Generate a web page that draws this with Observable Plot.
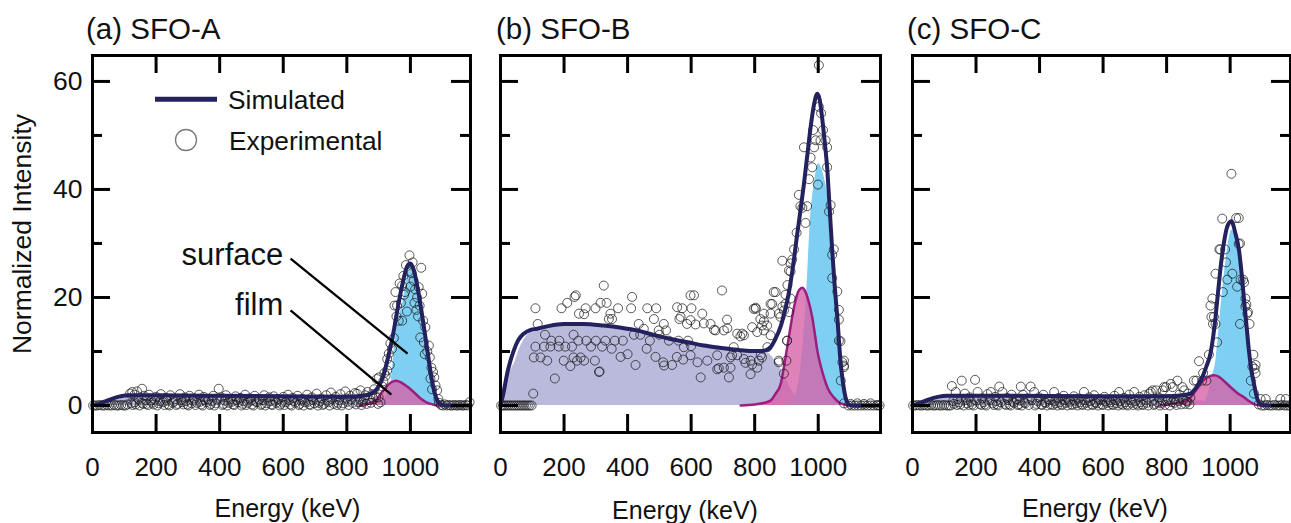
<!DOCTYPE html>
<html><head><meta charset="utf-8">
<script src="https://cdn.jsdelivr.net/npm/d3@7"></script>
<script src="https://cdn.jsdelivr.net/npm/@observablehq/plot@0.6"></script>
<style>
body{margin:0;background:#fff;font-family:"Liberation Sans",Arial,sans-serif;color:#111;}
#wrap{position:relative;width:1291px;height:523px;overflow:hidden;background:#fff;}
.panel{position:absolute;top:0;}
.title{position:absolute;font-size:29.5px;line-height:29.5px;white-space:nowrap;top:14px;}
.xlab{position:absolute;font-size:25px;line-height:25px;white-space:nowrap;transform:translateX(-50%);}
.ylab{position:absolute;font-size:26.5px;line-height:26.5px;white-space:nowrap;transform:translate(-50%,-50%) rotate(-90deg);}
</style></head><body><div id="wrap"></div>
<script>
// ---------- shared axis / tick values ----------
const xTickLabels = [0, 200, 400, 600, 800, 1000];
const xTickMarks = [200, 400, 600, 800, 1000];
const yTickLabels = [0, 20, 40, 60];
const yMajorTicks = [0, 20, 40, 60];
const yMinorTicks = [10, 30, 50];
const panelTitles = ["(a) SFO-A", "(b) SFO-B", "(c) SFO-C"];
const xAxisLabel = "Energy (keV)";
const yAxisLabel = "Normalized Intensity";
const legendLabels = ["Simulated", "Experimental"];

// ---------- panel (a) SFO-A ----------
const simA = [[0,0],[20,0.3],[50,1],[80,1.6],[110,1.9],[200,1.9],[400,1.8],[600,1.7],[800,1.6],[850,1.8],[880,2.3],[900,3.5],[915,5.5],[930,9],[945,13],[960,18],[975,22.5],[990,25.8],[1000,26.3],[1010,25.2],[1025,21],[1040,15.5],[1055,9.5],[1068,4.6],[1080,1.6],[1092,0.4],[1110,0],[1189,0]];
const bgA = [[0,0],[30,0.3],[60,0.9],[100,1.4],[130,1.6],[500,1.5],[850,1.4],[900,1.0],[950,0.3],[1000,0]];
const surfA = [[905,0],[925,2],[940,4.8],[953,12.6],[966,16.5],[979,20],[990,23.5],[1000,25.3],[1008,25.5],[1018,23.5],[1031,18],[1040,14],[1052,9.5],[1060,6.5],[1068,3.8],[1076,2],[1084,0.8],[1092,0.2],[1100,0]];
const filmA = [[840,0],[870,0.4],[890,1],[905,2],[920,3.2],[940,4.3],[955,4.6],[970,4.3],[990,3.5],[1010,2.5],[1030,1.4],[1050,0.6],[1070,0.2],[1090,0],[1110,0]];
const expA = [[2,0],[8,0],[15,0],[22,0.1],[30,0],[38,0],[45,0.1],[52,0],[60,0],[68,0.1],[75,0],[82,0],[90,0.1],[97,0],[104,0],[110,0.2],
[118,2.2],[125,2.5],[132,2.0],[140,2.6],[156,3.1],[122,0.4],[136,0.2],[145,1.2],[155,0.5],[162,1.8],[170,0.3],[178,2.0],[185,0.9],[192,0.2],[200,1.6],[208,0.4],[215,2.1],[222,0.6],[230,1.4],[238,0.2],[245,1.9],[252,0.5],[260,1.2],[268,0.3],[275,2.1],[282,0.6],[290,1.5],[298,0.2],[305,1.8],[312,0.4],[320,1.3],[328,0.5],[335,2.0],[342,0.2],[350,1.6],[358,0.6],[365,1.1],[372,0.3],[380,1.8],[388,0.4],[397,3.1],[405,1.5],[412,0.3],[420,1.9],[428,0.5],[435,1.2],[442,0.2],[450,1.7],[458,0.6],[465,1.4],[472,0.3],[480,2.0],[488,0.5],[495,1.3],[502,0.2],[510,1.8],[518,0.6],[525,1.1],[532,0.3],[540,1.9],[548,0.4],[555,1.5],[562,0.2],[570,1.7],[578,0.5],[585,1.2],[592,0.3],[600,1.6],[608,0.6],[615,2.0],[622,0.2],[630,1.4],[638,0.5],[645,1.8],[652,0.3],[660,1.2],[668,0.6],[675,2.0],[682,0.2],[690,1.5],[698,0.4],[705,2.2],[712,0.5],[720,1.3],[728,0.3],[735,1.9],[742,0.6],[750,2.4],[758,0.3],[765,1.6],[772,0.5],[780,2.1],[788,0.4],[795,2.6],[802,0.7],[810,1.8],[818,0.5],[825,2.3],[832,2.2],[840,1.2],[843,2.8],[850,0.6],[858,1.9],[865,2.5],[872,1.0],[880,2.1],[886,3.0],[892,1.5],[898,0.3],
[126,0.1],[133,0.6],[148,0.0],[159,0.3],[167,1.0],[175,0.1],[189,0.5],[197,1.1],[204,0.0],[212,0.8],[226,0.1],[234,0.9],[242,0.0],[256,0.7],[264,0.1],[279,1.0],[286,0.2],[294,0.8],[302,0.0],[316,0.9],[324,0.1],[339,0.7],[346,0.0],[354,1.0],[369,0.1],[376,0.8],[384,0.0],[392,1.1],[409,0.1],[416,0.9],[424,0.0],[439,0.7],[446,0.1],[454,1.0],[469,0.0],[476,0.8],[484,0.1],[499,0.9],[506,0.0],[514,0.7],[529,0.1],[536,1.0],[544,0.0],[559,0.8],[566,0.1],[574,0.9],[589,0.0],[596,0.7],[604,0.1],[619,1.0],[626,0.0],[634,0.8],[649,0.1],[656,0.9],[664,0.0],[679,0.7],[686,0.1],[694,1.0],[709,0.0],[716,0.8],[724,0.1],[739,0.9],[746,0.0],[754,1.2],[769,0.1],[776,1.0],[784,0.0],[799,1.3],[806,0.1],[814,1.1],[829,0.2],[836,0.6],[846,0.1],[854,1.2],[862,0.3],[876,0.5],[884,1.2],
[894,4.9],[900,1.5],[901,5.2],[906,0.6],[912,3.5],[915,4.5],[918,6.0],[922,5.5],[927,8.6],[927,6.5],[932,9.6],[935,7.5],[937,11.5],[942,10.5],[948,12.5],[950,18.5],[953,21.0],[956,16.5],[958,18.5],[963,15.7],[966,22.6],[970,19],[974,22.2],[974,15.7],[978,24],[980,20.5],[983,21],[986,26.0],[989,17.4],[995,24.8],[997,27.8],[1000,22],[1004,24.5],[1007,26.5],[1010,23.1],[1013,19],[1015,21.5],[1019,17.7],[1021,20.0],[1024,16.5],[1026,21.9],[1029,18.5],[1031,12.6],[1034,25.5],[1037,20.7],[1040,15.7],[1042,11.7],[1045,9.5],[1047,14.5],[1053,10],[1058,11.1],[1061,8.9],[1063,5],[1066,7.0],[1068,3],[1071,6.2],[1075,5.2],[1079,3.7],[1084,2.8],[1088,1.2],
[1090,0.5],[1096,0.1],[1102,0],[1108,0.2],[1114,0],[1120,0.1],[1126,0],[1132,0],[1138,0.1],[1144,0],[1150,0],[1156,0.1],[1162,0],[1168,0],[1174,0.1],[1180,0],[1186,0.6]];
const annoTextA = [{label:"surface", x:600, y:27.8},{label:"film", x:600, y:18.5}];
const annoLinesA = [{x1:623, y1:27.2, x2:991, y2:9.6},{x1:623, y1:17.6, x2:940, y2:2.0}];

// ---------- panel (b) SFO-B ----------
const simB = [[0,0],[10,2.5],[21,5.9],[30,8],[42,10.2],[55,12],[73,13.3],[95,14],[115,14.2],[150,14.7],[199,15.1],[260,15.1],[325,14.8],[380,14.4],[430,13.9],[480,13.1],[535,12.3],[590,11.7],[640,11.1],[690,10.7],[745,10.3],[790,10.1],[821,10.1],[838,10.3],[850,10.8],[865,12.3],[881,14.5],[895,17.5],[907,20.7],[920,25.5],[934,31.8],[945,36.5],[955,41],[966,46.5],[976,51.5],[987,55.8],[997,57.7],[1005,56.5],[1012,53.4],[1020,49],[1028,44.1],[1036,36.5],[1044,28.7],[1052,22],[1060,16.4],[1070,8.3],[1078,4.2],[1086,1.5],[1097,0.2],[1110,0],[1196,0]];
const bgB = [[0,0],[5,2.2],[20,4.8],[35,6.8],[47,8.3],[60,10.5],[79,12.6],[95,13.6],[110,14.2],[150,14.7],[199,15.1],[260,15.1],[325,14.8],[380,14.4],[430,13.9],[480,13.1],[535,12.3],[590,11.7],[640,11.1],[690,10.7],[724,10.3],[790,10.0],[841,9.7],[865,8.2],[885,6.5],[900,4.8],[911,3.4],[925,2.0],[937,1.2],[955,0.6],[980,0.4],[1040,0.3],[1080,0.1],[1090,0]];
const surfB = [[910,0],[930,2],[945,7],[955,13],[965,22.5],[976,34.9],[986,40.4],[995,43.8],[1002,44.8],[1010,44],[1020,42],[1028,39.5],[1036,33],[1044,26],[1052,20],[1060,14.8],[1070,7.8],[1078,3.8],[1086,1.3],[1097,0.2],[1105,0]];
const filmB = [[756,0],[800,0.2],[830,0.5],[850,0.9],[866,2.2],[882,4],[897,8.9],[908,12.8],[918,16.4],[930,19.8],[940,21.4],[950,21.8],[960,21],[970,19.2],[981,16.4],[990,13],[997,10.2],[1008,7.3],[1018,5.2],[1030,3.2],[1049,1.5],[1065,0.6],[1080,0.2],[1100,0]];
const expB = [[2,0],[8,0],[14,0],[20,0],[26,0],[32,0],[38,0],[44,0],[50,0],[56,0],[62,0],[68,0],[74,0],[80,0],[86,0],[92,0],[98,0],
[103,2.2],[110,18.0],[117,15.1],[171,5.0],
[192,18],[210,19],[233,20.1],[237,20.4],[247,17],[263,16.9],[268,18],[299,18],[315,19],[334,19],[325,22.2],[346,17],[351,16],[341,16],[370,18],[414,20.1],[411,18],[462,18],[490,18],[483,16],[514,15.1],[521,13.9],[498,13.9],[556,18.2],[572,18],[601,18],[598,20.4],[609,20.4],[563,16],[587,15.1],[435,15.1],[451,14.2],
[110,10.9],[137,10.9],[157,10.9],[183,10.9],[204,10.9],[225,10.9],[105,8.9],[126,8.9],[147,8.3],[199,8.3],[230,8.9],[241,8.3],[252,8.9],[220,7.3],[297,8.3],[312,6.3],[310,6.2],[263,8.3],
[140,13.1],[160,12.0],[185,12.0],[230,13.1],[245,12.0],[270,12.0],[300,12.0],[330,12.0],[360,12.0],[385,12.0],[420,13.1],[440,13.1],[470,12.0],[500,13.1],[530,12.0],[560,12.0],[590,12.0],
[285,10.9],[320,10.9],[350,10.5],[378,9],[400,9.5],[425,7.5],[460,10.5],[488,9],[512,8],[540,7.5],[515,7.4],[555,9],[575,8.5],[600,11],[620,8],[630,5.2],[682,6.7],[703,7.0],[719,5.2],
[567,16.4],[598,15.8],[640,15.2],[672,14],[714,14.3],[745,13.3],[761,13.3],[803,18.1],[829,15.6],[697,21.3],
[577,10.8],[598,9.3],[651,8.3],[682,9.3],[724,7.0],[745,9.3],[787,8.3],[819,9.3],[840,10.8],
[614,15.0],[713,15.9],[635,17.0],[661,15.1],[677,13.9],[703,13.9],[755,12.8],[766,13.0],[734,10.8],[729,9.3],
[797,17.9],[818,16.0],[850,17.0],[855,18.8],[866,21.0],[876,17.0],[887,18.3],[897,18.8],[908,17.3],[913,19.8],[908,25.0],[913,26.3],
[792,14.5],[808,13.6],[823,14.8],[839,14.8],[829,13.9],[850,13.0],[771,7.9],[792,7.6],[808,7.0],[787,5.8],[813,8.3],[823,8.9],[766,8.6],[724,8.9],[687,6.9],[876,8.3],[902,12],
[1002,63.0],[1002,55.3],[1009,54.1],[984,51.0],[1015,51.0],[992,49.1],[1007,49.1],[1023,49.1],[1028,47.8],[955,47.8],[987,47.8],[976,45.9],[981,44.1],[1028,44.1],[971,41.9],[999,40.9],[939,39.0],[944,36.9],[950,36.6],[965,36.9],[960,33.8],[1034,35.9],[1039,37.1],[932,32.0],[924,28.9],[918,27.0],[887,26.8],[913,24.8],[903,22.3],[897,20.5],[1044,27.9],[1049,28.9],[1044,23.6],[1060,21.1],[1065,17.7],[1065,15.9],[803,17.9],[860,21.0],[850,18.8],[829,17.0],[881,16.4],[892,17.6],[902,12.0],[900,8.3],[892,5.9],[876,8.0],[1065,12],[1070,11.9],[1076,8.0],[1081,7.4],[1071,4.6],[1081,8.3],[1081,7.1],
[1081,0.4],[1102,0.3],[1123,0.4],[1144,0.3],[1165,0.4],[1186,0.1],[1095,0],[1105,0],[1115,0],[1125,0],[1135,0],[1145,0],[1155,0],[1165,0],[1175,0],[1185,0],[1193,0]];

// ---------- panel (c) SFO-C ----------
const simC = [[0,0],[20,0.4],[50,1.1],[80,1.6],[110,1.8],[300,1.8],[600,1.7],[800,1.7],[850,1.9],[875,2.2],[895,3.5],[912,5.2],[925,7.2],[938,9.6],[946,12.5],[954,16.4],[962,21],[970,25.6],[980,30],[992,33.3],[1004,34.1],[1016,32],[1028,28.7],[1036,24.5],[1044,19.4],[1052,14.5],[1059,10.2],[1067,6.5],[1075,4],[1082,2],[1090,0.6],[1100,0.1],[1110,0],[1190,0]];
const bgC = [[0,0],[30,0.3],[60,0.9],[100,1.4],[130,1.6],[500,1.5],[850,1.4],[900,1.0],[950,0.3],[1000,0]];
const surfC = [[915,0],[930,2],[944,5.5],[955,8.3],[963,13],[971,18.2],[981,24],[991,28.7],[1000,31.8],[1006,32.5],[1015,31.5],[1028,27.5],[1036,23],[1044,18.5],[1052,13.5],[1059,9.3],[1067,5.5],[1075,3.2],[1082,1.5],[1090,0.4],[1100,0]];
const filmC = [[780,0],[820,0.3],[850,0.7],[875,1.5],[895,3],[915,4.6],[935,5.4],[949,5.6],[965,5.3],[985,4.3],[1005,3.2],[1025,2.2],[1044,1.5],[1060,0.8],[1077,0.2],[1095,0],[1110,0]];
const expC = [[2,0],[9,0],[16,0.1],[23,0],[30,0],[37,0.1],[44,0],[51,0],[58,0.1],[65,0],[72,0],[79,0.1],[86,0],[93,0],[100,0.1],[107,0],[114,0],
[124,3.6],[136,2.5],[130,0.3],[142,1.2],[155,4.6],[150,0.2],[165,2.2],[172,0.4],[180,1.5],[188,0.2],[197,4.75],[205,2.5],[212,0.3],[220,1.3],[228,0.2],[236,2.1],[247,2.5],[252,0.4],[260,1.6],[266,0.2],[273,3.5],[283,2.5],[290,0.3],[298,1.4],[305,0.2],[312,2.0],[320,0.5],[328,1.2],[335,0.2],[341,3.5],[348,2.0],[355,0.4],[362,1.3],[372,3.5],[383,2.5],[390,0.3],[398,1.5],[405,0.2],[412,2.0],[420,0.5],[428,1.2],[435,0.2],[446,2.5],[452,0.4],[460,1.4],[468,0.2],[476,1.8],[484,0.5],[492,1.1],[500,0.2],[508,1.7],[516,0.4],[524,1.3],[532,0.2],[540,2.5],[548,0.5],[556,1.5],[564,0.2],[572,1.9],[580,0.4],[588,1.2],[596,0.2],[604,1.6],[612,0.5],[620,1.0],[628,0.2],[636,1.8],[644,0.4],[650,2.5],[658,0.3],[666,1.4],[674,0.2],[682,2.0],[690,0.5],[698,2.5],[706,0.3],[714,1.6],[722,0.2],[730,1.9],[738,0.5],[745,2.2],[750,2.5],[756,2.8],[762,0.3],[767,2.8],[775,1.5],[782,0.4],[788,2.8],[792,3.4],[798,3.4],[805,1.2],[813,4.0],[819,3.4],[826,0.5],[834,4.6],[840,2.0],[850,3.4],[855,2.8],[862,0.8],[868,2.2],
[120,0.0],[128,0.8],[140,0.1],[147,0.6],[161,0.0],[168,1.0],[177,0.1],[184,0.7],[193,0.0],[201,0.9],[216,0.1],[224,0.6],[232,0.0],[243,1.0],[256,0.1],[263,0.8],[270,0.0],[278,0.6],[294,0.1],[301,1.0],[309,0.0],[316,0.7],[331,0.1],[338,0.9],[344,0.0],[352,0.6],[366,0.1],[376,1.0],[386,0.0],[394,0.8],[408,0.1],[416,0.6],[424,0.0],[432,1.0],[442,0.1],[449,0.8],[456,0.0],[464,0.6],[472,0.1],[480,1.0],[488,0.0],[496,0.7],[504,0.1],[512,0.9],[520,0.0],[528,0.6],[536,0.1],[544,1.0],[552,0.0],[560,0.8],[568,0.1],[576,0.6],[584,0.0],[592,1.0],[600,0.1],[608,0.8],[616,0.0],[624,0.6],[632,0.1],[640,1.0],[647,0.0],[654,0.8],[662,0.1],[670,0.6],[678,0.0],[686,1.0],[694,0.1],[702,0.8],[710,0.0],[718,0.6],[726,0.1],[734,1.0],[742,0.0],[753,0.8],[760,0.1],[771,0.6],[779,0.0],[786,1.0],[795,0.1],[802,0.8],[810,0.0],[817,0.6],[823,1.2],[831,0.1],[838,0.8],[846,0.2],[853,1.1],[859,0.3],[866,0.7],[872,0.2],
[875,1.5],[886,4.6],[894,4.6],[902,8.2],[912,4.6],[915,6.0],[925,4.6],[933,9.4],[938,18.5],[941,16.4],[944,19.8],[946,15.1],[949,16.4],[954,15.1],[954,24.4],[959,11.7],[966,28.9],[969,28.9],[975,34.6],[977,21],[984,28.9],[987,26.5],[991,23.3],[1004,42.9],[1007,24.4],[1019,34.7],[1022,22],[1027,34.7],[1027,29.9],[1031,30],[1031,15.1],[1033,23.3],[1041,23.3],[1044,22.8],[1048,19.8],[1048,18.3],[1051,18.7],[1054,17],[1056,17.3],[1061,15.1],[1065,4.6],[1070,7.2],[1073,9.4],[1075,2.2],[1077,6.8],[1080,7.5],[1080,6.0],[1096,1.2],[1112,1.2],[1158,1.2],[1175,1.2],
[1090,0.2],[1100,0],[1108,0],[1116,0.1],[1124,0],[1132,0],[1140,0.1],[1148,0],[1156,0],[1164,0.1],[1172,0],[1180,0],[1188,0]];

// ---------- style ----------
const NAVY = "#23215e", CYAN = "#7ecff1", PINK = "#d65fa6", MAG = "#9c1f7f", LAV = "#babadd";
const H = 523, MT = 55, MB = 91;
const FONT = "'Liberation Sans', Arial, sans-serif";

function pts(a){ return a.map(([x, y]) => ({x, y})); }

function makePanel(cfg){
  const fh = H - MT - MB;
  const fw = cfg.width - cfg.ml - cfg.mr;
  const marks = [
    Plot.areaY(pts(cfg.bg), {x:"x", y:"y", fill: LAV, curve:"monotone-x"}),
    Plot.areaY(pts(cfg.surf), {x:"x", y:"y", fill: CYAN, curve:"monotone-x"}),
    Plot.areaY(pts(cfg.film), {x:"x", y:"y", fill: PINK, fillOpacity: 0.78, curve:"monotone-x"}),
    Plot.lineY(pts(cfg.film), {x:"x", y:"y", stroke: MAG, strokeWidth: 2.5, curve:"monotone-x"}),
    Plot.dot(pts(cfg.exp), {x:"x", y:"y", r: 4.5, stroke:"#1b1b1b", strokeOpacity: 0.72, strokeWidth: 1, fill:"none"}),
    Plot.lineY(pts(cfg.sim), {x:"x", y:"y", stroke: NAVY, strokeWidth: 4, curve:"monotone-x"}),
    // inward ticks
    Plot.tickX(xTickMarks, {x: d => d, insetTop: fh - 18, stroke:"#000", strokeWidth: 3}),
    Plot.tickX(xTickMarks, {x: d => d, insetBottom: fh - 18, stroke:"#000", strokeWidth: 3}),
    Plot.tickY(yMajorTicks, {y: d => d, insetRight: fw - 18, stroke:"#000", strokeWidth: 3}),
    Plot.tickY(yMinorTicks, {y: d => d, insetRight: fw - 10, stroke:"#000", strokeWidth: 3}),
    Plot.tickY(yMajorTicks, {y: d => d, insetLeft: fw - 19, stroke:"#000", strokeWidth: 3}),
    Plot.tickY(yMinorTicks, {y: d => d, insetLeft: fw - 10, stroke:"#000", strokeWidth: 3}),
    Plot.frame({stroke:"#000", strokeWidth: 3}),
    Plot.axisX({ticks: xTickLabels, tickFormat: d => String(d), tickSize: 0, tickPadding: 25, fontSize: 26, label: null, fill:"#111"})
  ];
  if (cfg.showY) marks.push(Plot.axisY({ticks: yTickLabels, tickFormat: d => String(d), tickSize: 0, tickPadding: 10, fontSize: 26.5, label: null, fill:"#111"}));
  if (cfg.anno) {
    marks.push(Plot.link(cfg.anno.lines, {x1:"x1", y1:"y1", x2:"x2", y2:"y2", stroke:"#000", strokeWidth: 2.3}));
    marks.push(Plot.text(cfg.anno.text, {x:"x", y:"y", text:"label", textAnchor:"end", fontSize: 31, fill:"#111"}));
  }
  const svg = Plot.plot({
    width: cfg.width, height: H,
    marginTop: MT, marginBottom: MB, marginLeft: cfg.ml, marginRight: cfg.mr,
    x: {domain: [0, cfg.xMax], axis: null},
    y: {domain: [-5, 64.8], axis: null},
    style: {fontFamily: FONT, fontSize: "25px", color: "#111", background: "transparent", overflow: "visible"},
    marks
  });
  svg.classList.add("panel");
  svg.style.left = cfg.left + "px";
  return svg;
}

const wrap = document.getElementById("wrap");
const panels = [
  {left: 0, width: 485, ml: 92, mr: 15, xMax: 1189, sim: simA, bg: bgA, surf: surfA, film: filmA, exp: expA, showY: true,
   anno: {text: annoTextA, lines: annoLinesA}, titleX: 86, labX: 287.5, labTop: 496},
  {left: 485, width: 410, ml: 15, mr: 15, xMax: 1196, sim: simB, bg: bgB, surf: surfB, film: filmB, exp: expB, showY: false,
   titleX: 496, labX: 685, labTop: 498},
  {left: 895, width: 396, ml: 17, mr: 1, xMax: 1190, sim: simC, bg: bgC, surf: surfC, film: filmC, exp: expC, showY: false,
   titleX: 907, labX: 1095, labTop: 496}
];
panels.forEach((p, i) => {
  wrap.appendChild(makePanel(p));
  const t = document.createElement("div");
  t.className = "title"; t.textContent = panelTitles[i]; t.style.left = p.titleX + "px";
  wrap.appendChild(t);
  const xl = document.createElement("div");
  xl.className = "xlab"; xl.textContent = xAxisLabel; xl.style.left = p.labX + "px"; xl.style.top = p.labTop + "px";
  wrap.appendChild(xl);
});
const yl = document.createElement("div");
yl.className = "ylab"; yl.textContent = yAxisLabel; yl.style.left = "22px"; yl.style.top = "234px";
wrap.appendChild(yl);

// legend (panel a)
const ns = "http://www.w3.org/2000/svg";
const leg = document.createElementNS(ns, "svg");
leg.setAttribute("width", 300); leg.setAttribute("height", 80);
leg.style.position = "absolute"; leg.style.left = "140px"; leg.style.top = "80px";
leg.innerHTML = `<line x1="15" x2="77" y1="19.3" y2="19.3" stroke="${NAVY}" stroke-width="5"/>
<circle cx="46" cy="60" r="10.5" fill="none" stroke="#7a7a7a" stroke-width="1.3"/>
<text x="88" y="29.3" font-family="${FONT}" font-size="26.3" fill="#111">${legendLabels[0]}</text>
<text x="89" y="70" font-family="${FONT}" font-size="26.3" fill="#111">${legendLabels[1]}</text>`;
wrap.appendChild(leg);
</script></body></html>
